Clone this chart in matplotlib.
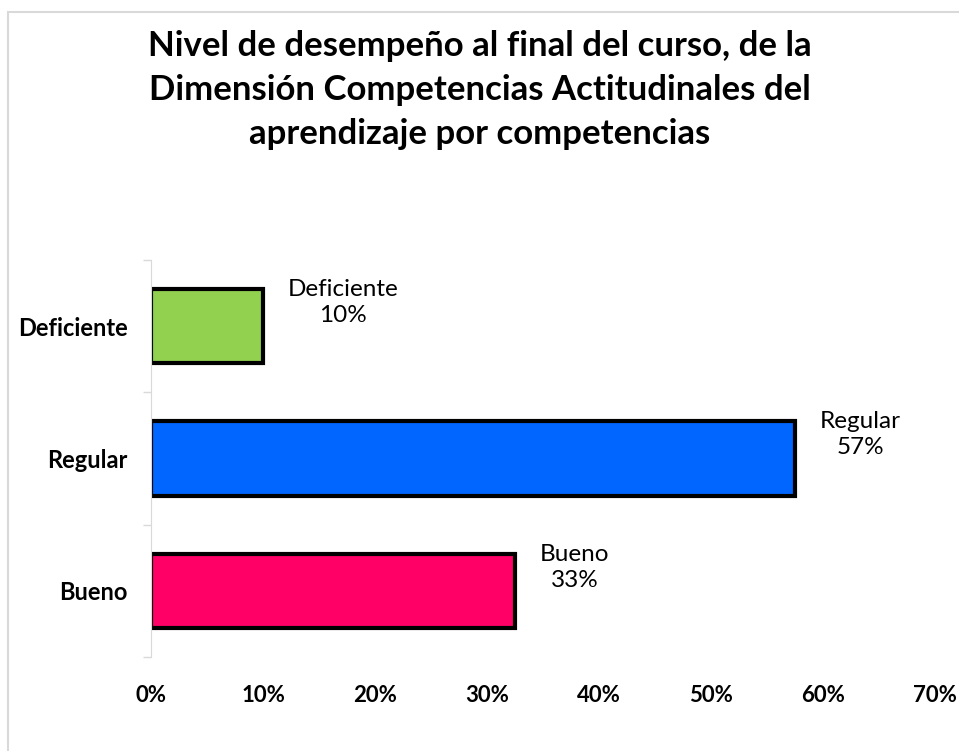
import matplotlib
matplotlib.use("Agg")
import matplotlib.pyplot as plt
from matplotlib.patches import Rectangle
from matplotlib.ticker import FixedLocator

plt.rcParams['font.family'] = ['Lato', 'DejaVu Sans']

# data (bottom to top)
categories = ["Bueno", "Regular", "Deficiente"]
values = [0.325, 0.575, 0.10]
value_labels = ["33%", "57%", "10%"]
colors = ["#ff0066", "#0066ff", "#92d050"]
xticks = [0, 0.1, 0.2, 0.3, 0.4, 0.5, 0.6, 0.7]
xticklabels = ["0%", "10%", "20%", "30%", "40%", "50%", "60%", "70%"]

fig = plt.figure(figsize=(9.59, 7.51), dpi=100)
ax = fig.add_axes([0.1575, 0.125, 0.8175, 0.529])

# light frame around the chart (runs off the right and bottom edges)
fig.patches.append(Rectangle((0.0085, -0.05), 1.1, 1.034, transform=fig.transFigure,
                             fill=False, edgecolor="#d9d9d9", linewidth=1.5))

y = range(len(categories))
ax.barh(y, values, height=0.56, color=colors, edgecolor="black", linewidth=3)

for i in y:
    ax.annotate(categories[i] + "\n" + value_labels[i], xy=(values[i], i),
                xytext=(18, 17), textcoords="offset points",
                ha="left", va="center", multialignment="center",
                fontsize=17.5, linespacing=1.3)

ax.set_xlim(0, 0.7)
ax.set_ylim(-0.5, 2.5)
ax.set_yticks(list(y))
ax.set_yticklabels(categories, fontsize=17, fontweight="bold")
ax.yaxis.set_minor_locator(FixedLocator([-0.5, 0.5, 1.5, 2.5]))
ax.tick_params(axis="y", which="major", length=0, pad=17)
ax.tick_params(axis="y", which="minor", length=6, color="#d9d9d9", width=1)
ax.set_xticks(xticks)
ax.set_xticklabels(xticklabels, fontsize=16, fontweight="bold")
ax.tick_params(axis="x", length=0, pad=20)

for s in ["top", "right", "bottom"]:
    ax.spines[s].set_visible(False)
ax.spines["left"].set_color("#d9d9d9")

fig.text(0.5, 0.88, "Nivel de desempeño al final del curso, de la\n"
         "Dimensión Competencias Actitudinales del\n"
         "aprendizaje por competencias",
         ha="center", va="center", fontsize=25, fontweight="bold", linespacing=1.45)

fig.savefig("out.png", dpi=100)
